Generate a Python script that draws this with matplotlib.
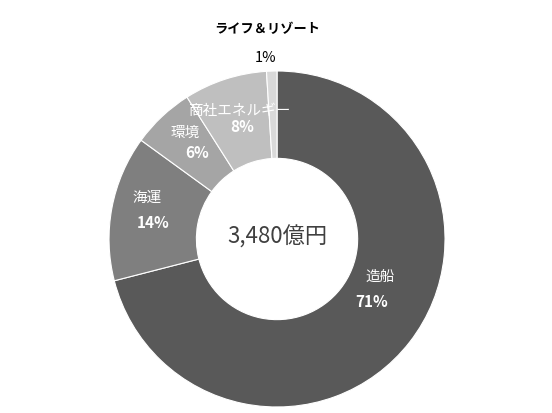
import matplotlib.pyplot as plt

plt.rcParams['font.family'] = ['Noto Sans CJK JP', 'DejaVu Sans']

# segment data, clockwise from 12 o'clock
segments = ['造船', '海運', '環境', '商社エネルギー', 'ライフ＆リゾート']
shares = [71, 14, 6, 8, 1]
colors = ['#595959', '#7f7f7f', '#a5a5a5', '#bfbfbf', '#d9d9d9']
total_label = '3,480億円'

fig = plt.figure(figsize=(5.52, 4.14), dpi=100)
ax = fig.add_axes([0.1975, 0.0145, 0.6087, 0.8116])

ax.pie(shares, colors=colors, startangle=90, counterclock=False, radius=1.0,
       wedgeprops=dict(width=0.52, edgecolor='white', linewidth=0.8))
ax.set_xlim(-1, 1)
ax.set_ylim(-1, 1)
ax.set_aspect('equal')
ax.axis('off')

# labels inside the ring (name, percent)
label_pos = {
    '造船': ((0.613, -0.22), (0.565, -0.37)),
    '海運': ((-0.774, 0.25), (-0.738, 0.10)),
    '環境': ((-0.548, 0.637), (-0.476, 0.518)),
    '商社エネルギー': ((-0.22, 0.77), (-0.21, 0.67)),
}
for name, share in zip(segments, shares):
    if name in label_pos:
        (nx, ny), (px, py) = label_pos[name]
        ax.text(nx, ny, name, color='white', fontsize=10.5, ha='center', va='center')
        ax.text(px, py, f'{share}%', color='white', fontsize=11, fontweight='bold',
                ha='center', va='center')

# small segment labelled outside
ax.text(-0.06, 1.256, segments[-1], color='black', fontsize=9.5, fontweight='bold',
        ha='center', va='center', clip_on=False)
ax.text(-0.07, 1.083, f'{shares[-1]}%', color='black', fontsize=10.5,
        ha='center', va='center', clip_on=False)

ax.text(0, 0.02, total_label, color='#404040', fontsize=16, ha='center', va='center')

plt.savefig('out.png', dpi=100)
